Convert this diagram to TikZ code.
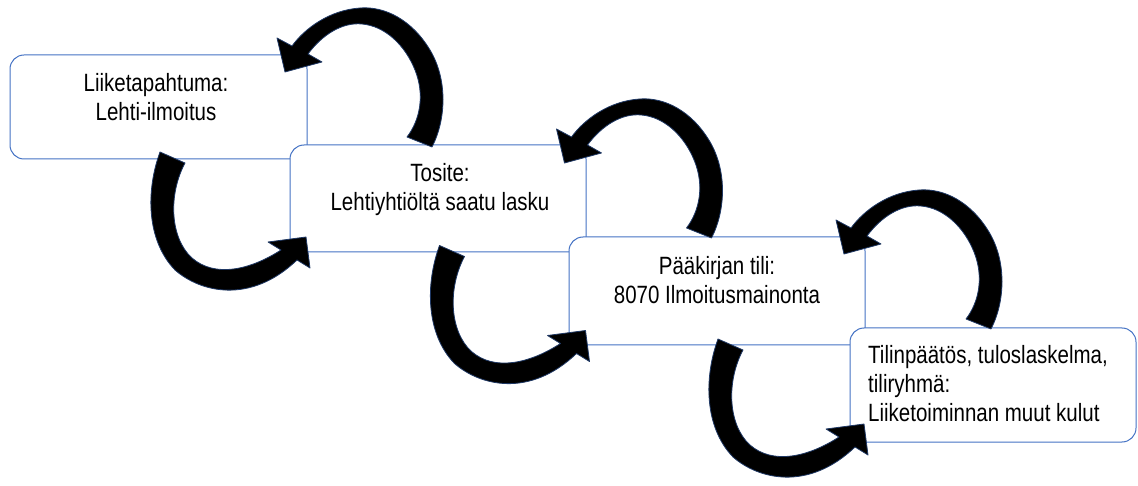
\documentclass[tikz,border=0pt]{standalone}
\usepackage{fontspec}
\setmainfont{Liberation Sans}[FakeStretch=0.82]
\definecolor{boxblue}{RGB}{68,114,196}
\definecolor{arrowedge}{RGB}{31,56,100}
\tikzset{
  box/.style={rectangle, rounded corners=14pt, draw=boxblue, fill=white, line width=1pt, inner sep=0pt},
  lbl/.style={inner sep=0pt, font=\fontsize{25}{29}\selectfont, text=black},
  blockarrow/.style={fill=black, draw=arrowedge, line width=0.8pt, line join=round},
  backarr/.pic={
    \path[blockarrow] (432,147) .. controls (446,120) and (448,80) .. (430,50)
      .. controls (412,20) and (385,6) .. (360,8)
      .. controls (330,10) and (305,28) .. (292,46)
      -- (277,38) -- (285,72) -- (322,62) -- (308,54)
      .. controls (322,35) and (342,22) .. (362,24)
      .. controls (385,26) and (405,45) .. (415,70)
      .. controls (425,95) and (420,120) .. (407,137) -- cycle;
  },
  fwdarr/.pic={
    \path[blockarrow] (160,152) .. controls (146,190) and (146,240) .. (175,270)
      .. controls (200,292) and (250,305) .. (297,260)
      -- (310,268) -- (306,237) -- (268,242) -- (281,250)
      .. controls (250,270) and (215,278) .. (192,258)
      .. controls (170,238) and (168,195) .. (185,163) -- cycle;
  }
}
\begin{document}
\begin{tikzpicture}[x=1pt,y=-1pt]
\useasboundingbox (0,0) rectangle (1138,486);
% boxes
\node[box, minimum width=297pt, minimum height=104pt] (b1) at (158.5,107) {};
\node[box, minimum width=296pt, minimum height=107pt] (b2) at (438,198.5) {};
\node[box, minimum width=296pt, minimum height=108pt] (b3) at (717,291) {};
\node[box, minimum width=286pt, minimum height=114pt] (b4) at (993,385) {};
% texts
\node[lbl, align=center, anchor=north] (t1) at (156,73) {Liiketapahtuma:\\Lehti-ilmoitus};
\node[lbl, align=center, anchor=north] (t2) at (440,163) {Tosite:\\Lehtiyhtiöltä saatu lasku};
\node[lbl, align=center, anchor=north] (t3) at (717,256) {Pääkirjan tili:\\8070 Ilmoitusmainonta};
\node[lbl, align=left, anchor=north west] (t4) at (868,345) {Tilinpäätös, tuloslaskelma,\\tiliryhmä:\\Liiketoiminnan muut kulut};
% arrows
\pic at (0,0) {backarr};
\pic at (279.5,91) {backarr};
\pic at (559,182) {backarr};
\pic at (0,0) {fwdarr};
\pic at (279.5,93.5) {fwdarr};
\pic at (558,187) {fwdarr};
\end{tikzpicture}
\end{document}
